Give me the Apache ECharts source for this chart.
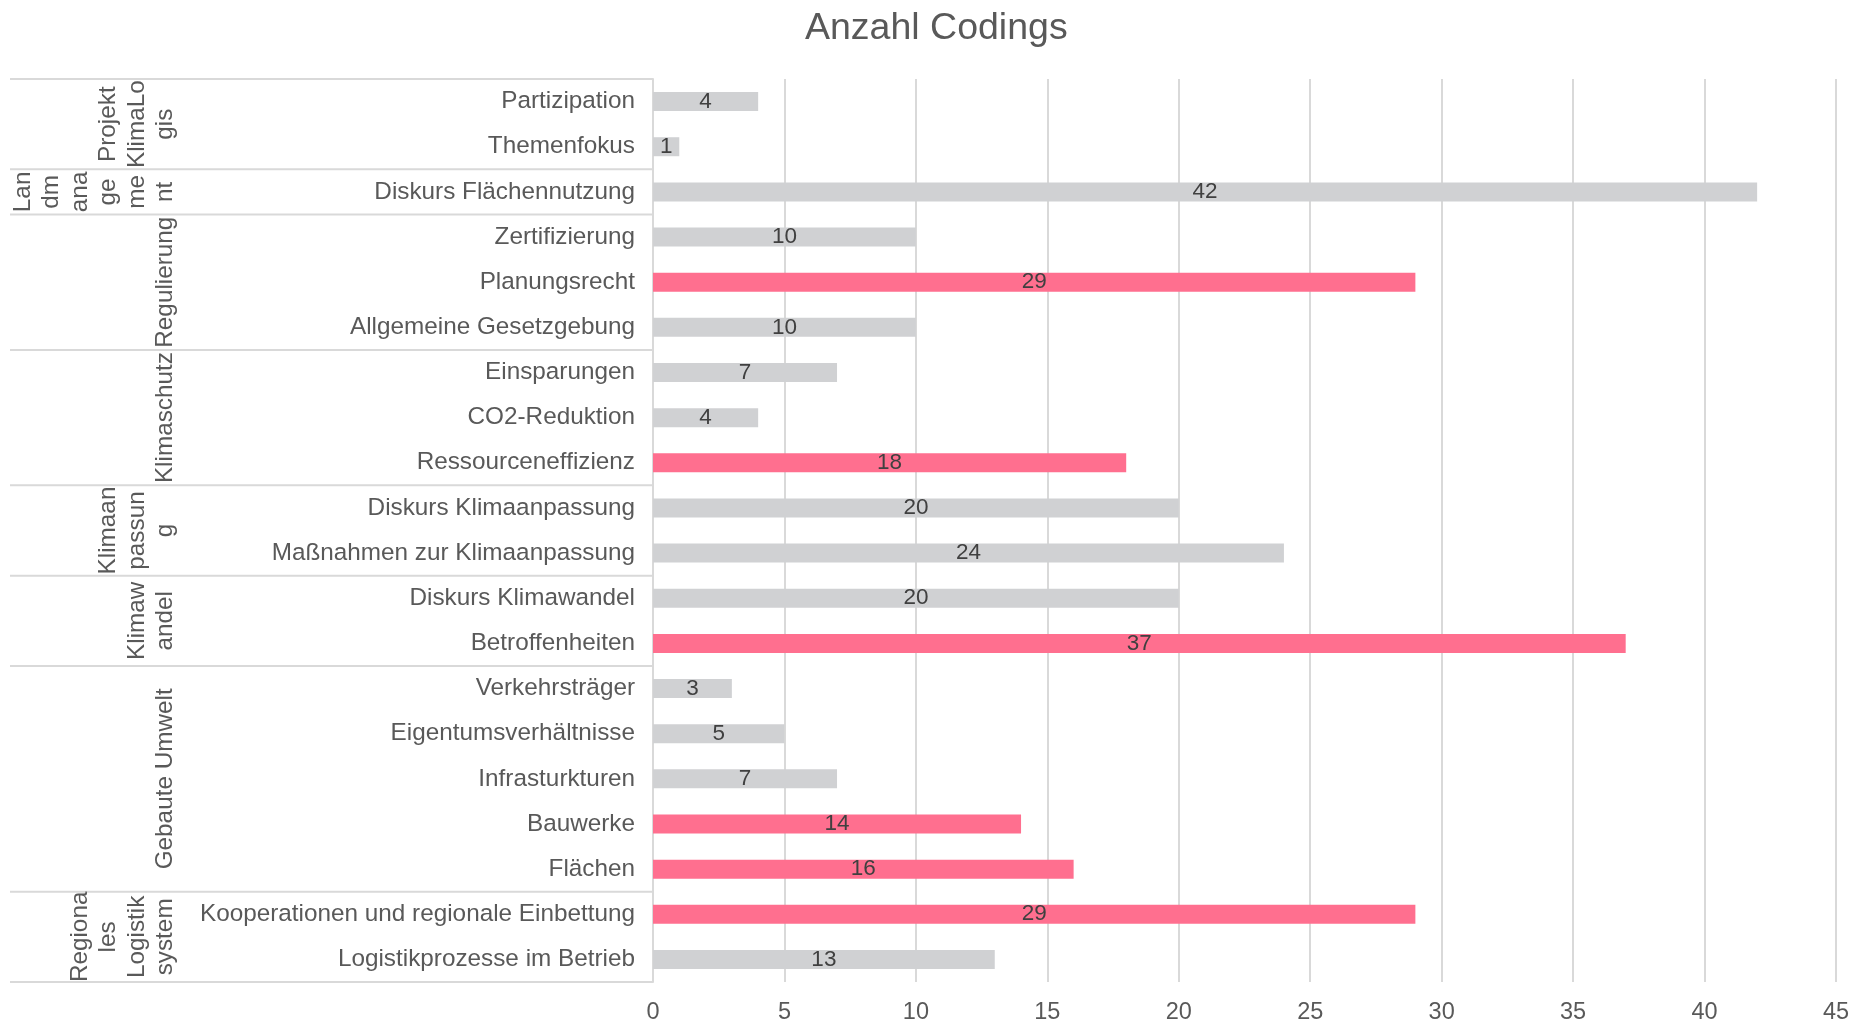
<!DOCTYPE html>
<html>
<head>
<meta charset="utf-8">
<title>Anzahl Codings</title>
<script src="https://cdn.jsdelivr.net/npm/echarts@6/dist/echarts.min.js"></script>
<style>
  html, body { margin: 0; padding: 0; background: #ffffff; }
  #chart { width: 1854px; height: 1021px; }
</style>
</head>
<body>
<div id="chart"></div>
<script>
// ==================== Daten ====================

var categories = [
  'Partizipation', 'Themenfokus',
  'Diskurs Flächennutzung',
  'Zertifizierung', 'Planungsrecht', 'Allgemeine Gesetzgebung',
  'Einsparungen', 'CO2-Reduktion', 'Ressourceneffizienz',
  'Diskurs Klimaanpassung', 'Maßnahmen zur Klimaanpassung',
  'Diskurs Klimawandel', 'Betroffenheiten',
  'Verkehrsträger', 'Eigentumsverhältnisse', 'Infrasturkturen', 'Bauwerke', 'Flächen',
  'Kooperationen und regionale Einbettung', 'Logistikprozesse im Betrieb'
];

var values = [4, 1, 42, 10, 29, 10, 7, 4, 18, 20, 24, 20, 37, 3, 5, 7, 14, 16, 29, 13];

// 1 = hervorgehoben (rosa), 0 = grau
var highlighted = [0, 0, 0, 0, 1, 0, 0, 0, 1, 0, 0, 0, 1, 0, 0, 0, 1, 1, 1, 0];

// Obere Ebene der Kategorieachse (so umgebrochen wie im Original)
var groupNames = [
  'Projekt\nKlimaLo\ngis',
  'Lan\ndm\nana\nge\nme\nnt',
  'Regulierung',
  'Klimaschutz',
  'Klimaan\npassun\ng',
  'Klimaw\nandel',
  'Gebaute Umwelt',
  'Regiona\nles\nLogistik\nsystem'
];
var groupSizes = [2, 1, 3, 3, 2, 2, 5, 2];

var xMin = 0, xMax = 45, xStep = 5;

(function () {
  'use strict';

  var FONT = "'Liberation Sans', Arial, Helvetica, sans-serif";
  var GRAY = '#d0d1d3';
  var PINK = '#ff6f8f';
  var LINE = '#d9d9d9';
  var TEXT = '#595959';

  var chart = echarts.init(document.getElementById('chart'));

  var barData = values.map(function (v, i) {
    return { value: v, itemStyle: { color: highlighted[i] ? PINK : GRAY } };
  });

  chart.setOption({
    backgroundColor: '#ffffff',
    animation: false,
    title: {
      text: 'Anzahl Codings',
      left: 800, top: 5,
      textStyle: { fontFamily: FONT, fontSize: 37.5, fontWeight: 'normal', color: TEXT }
    },
    grid: {
      left: 653, right: 18, top: 79, bottom: 39,
      containLabel: false,
      outerBoundsMode: 'none'
    },
    xAxis: {
      type: 'value',
      min: xMin, max: xMax, interval: xStep,
      axisLine: { show: false },
      axisTick: { show: false },
      axisLabel: { color: TEXT, fontFamily: FONT, fontSize: 23.5, margin: 19 },
      splitLine: { lineStyle: { color: LINE, width: 2 } }
    },
    yAxis: {
      type: 'category',
      data: categories,
      inverse: true,
      axisLine: { show: true, lineStyle: { color: LINE, width: 2 } },
      axisTick: { show: false },
      axisLabel: { color: TEXT, fontFamily: FONT, fontSize: 24.3, margin: 18 }
    },
    series: [{
      type: 'bar',
      data: barData,
      barWidth: 19,
      label: {
        show: true,
        position: 'inside',
        color: '#404040',
        fontFamily: FONT,
        fontSize: 22.5
      }
    }]
  });

  // ==================== Gruppen-Ebene ====================

  function drawGroups() {
    var c0 = chart.convertToPixel({ yAxisIndex: 0 }, 0);
    var band = chart.convertToPixel({ yAxisIndex: 0 }, 1) - c0;
    var axisX = chart.convertToPixel({ xAxisIndex: 0 }, xMin);
    var elements = [];

    function hline(y) {
      elements.push({
        type: 'line',
        shape: { x1: 10, y1: y, x2: axisX, y2: y },
        style: { stroke: LINE, lineWidth: 2 },
        silent: true
      });
    }

    var start = 0;
    hline(c0 - band / 2);
    groupSizes.forEach(function (n, g) {
      var top = chart.convertToPixel({ yAxisIndex: 0 }, start) - band / 2;
      var bottom = chart.convertToPixel({ yAxisIndex: 0 }, start + n - 1) + band / 2;
      hline(bottom);
      elements.push({
        type: 'text',
        x: 180,
        y: (top + bottom) / 2,
        rotation: Math.PI / 2,
        silent: true,
        style: {
          text: groupNames[g],
          font: '24.3px ' + FONT,
          fill: TEXT,
          lineHeight: 28.5,
          textAlign: 'center',
          textVerticalAlign: 'bottom'
        }
      });
      start += n;
    });

    chart.setOption({ graphic: { elements: elements } });
  }

  drawGroups();

  window.addEventListener('resize', function () {
    chart.resize();
    drawGroups();
  });
})();
</script>
</body>
</html>
